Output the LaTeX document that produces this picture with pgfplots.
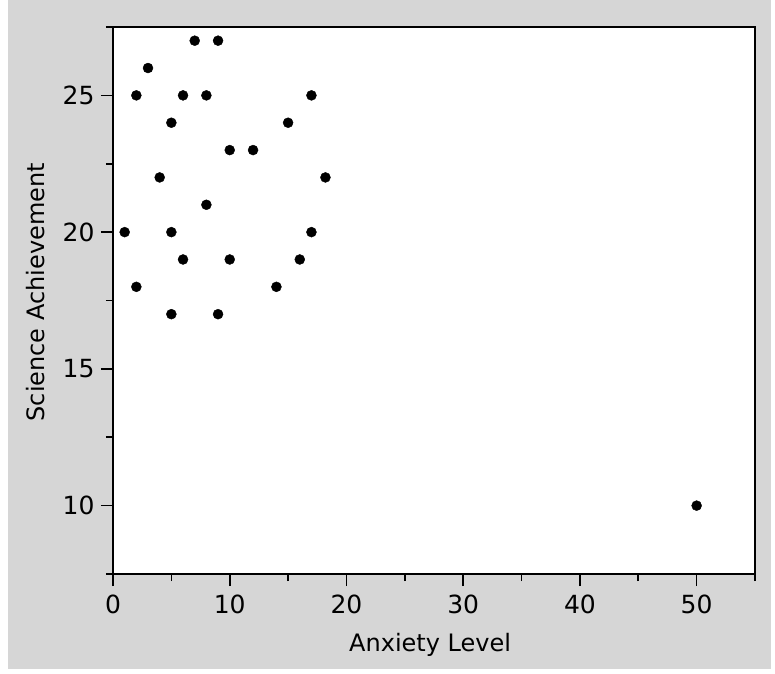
\documentclass[border=0pt]{standalone}
\usepackage{pgfplots}
\pgfplotsset{compat=1.18}
\usepackage{fontspec}
\setmainfont{DejaVu Sans}
\definecolor{bggray}{RGB}{214,214,214}
\begin{document}
\begin{tikzpicture}
\fill[white] (-113pt,-99pt) rectangle (662pt,574pt);
\fill[bggray] (-105pt,-95pt) rectangle (658pt,574pt);
\begin{axis}[
  scale only axis,
  width=642pt, height=547pt,
  xmin=0, xmax=55, ymin=7.5, ymax=27.5,
  xtick={0,10,...,50}, minor xtick={5,15,...,55},
  ytick={10,15,20,25}, minor ytick={7.5,12.5,17.5,22.5,27.5},
  xtick pos=left, ytick pos=left,
  tick align=outside,
  major tick length=12pt, minor tick length=7pt,
  every tick/.style={black, line width=1.6pt},
  axis line style={line width=1.6pt},
  axis background/.style={fill=white},
  /pgf/number format/assume math mode=true,
  tick label style={font=\fontsize{25}{29}\selectfont},
  xticklabel style={yshift=-5pt},
  yticklabel style={xshift=-3pt},
  label style={font=\fontsize{24}{28}\selectfont},
  xlabel={Anxiety Level},
  ylabel={Science Achievement},
  xlabel style={at={(axis description cs:0.494,-0.13)}, anchor=center},
  ylabel style={at={(axis description cs:-0.121,0.515)}, anchor=center, rotate=0},
  clip=false,
]
\addplot[only marks, mark=*, mark size=5pt, black] coordinates {
(7,27) (9,27) (3,26) (2,25) (6,25) (8,25) (17,25)
(5,24) (15,24) (10,23) (12,23) (4,22) (18.2,22) (8,21)
(1,20) (5,20) (17,20) (6,19) (10,19) (16,19)
(2,18) (14,18) (5,17) (9,17) (50,10)
};
\end{axis}
\end{tikzpicture}
\end{document}
